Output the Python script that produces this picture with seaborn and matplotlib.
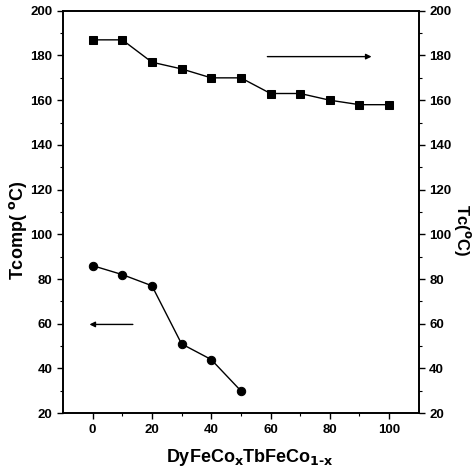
import matplotlib
matplotlib.use("Agg")
import matplotlib.pyplot as plt
import seaborn as sns
import pandas as pd

# Datos
x_tc = [0, 10, 20, 30, 40, 50, 60, 70, 80, 90, 100]
tc = [187, 187, 177, 174, 170, 170, 163, 163, 160, 158, 158]
x_tcomp = [0, 10, 20, 30, 40, 50]
tcomp = [86, 82, 77, 51, 44, 30]

sns.set_style("ticks", {"axes.edgecolor": "black", "text.color": "black",
                        "axes.labelcolor": "black", "xtick.color": "black",
                        "ytick.color": "black"})
plt.rcParams["font.family"] = ["Liberation Sans", "DejaVu Sans"]
plt.rcParams["font.weight"] = "bold"
plt.rcParams["mathtext.default"] = "bf"

df_tc = pd.DataFrame({"x": x_tc, "y": tc})
df_comp = pd.DataFrame({"x": x_tcomp, "y": tcomp})

fig = plt.figure(figsize=(4.77, 4.69), dpi=100)
ax = fig.add_axes([0.132, 0.119, 0.746, 0.858])
ax2 = ax.twinx()

sns.lineplot(data=df_comp, x="x", y="y", ax=ax, color="black", marker="o",
             markersize=6, linewidth=1, markeredgecolor="black")
sns.lineplot(data=df_tc, x="x", y="y", ax=ax2, color="black", marker="s",
             markersize=5.5, linewidth=1, markeredgecolor="black")

for a in (ax, ax2):
    a.set_ylim(20, 200)
    a.set_yticks(range(20, 201, 20))
    a.set_yticks(range(30, 200, 20), minor=True)
    a.tick_params(axis="both", which="major", length=4, width=1, labelsize=9.5,
                  colors="black")
    a.tick_params(axis="both", which="minor", length=2, width=0.8, colors="black")
    for s in a.spines.values():
        s.set_visible(True)
        s.set_linewidth(1.2)
        s.set_color("black")

ax.set_xlim(-10, 110)
ax.set_xticks(range(0, 101, 20))
ax.set_xticks(range(10, 101, 20), minor=True)

ax.set_xlabel("DyFeCo$_x$TbFeCo$_{1\\text{-}x}$", fontsize=13, fontweight="bold")
ax.set_ylabel("Tcomp( $^o$C)", fontsize=13, fontweight="bold", va="center", ha="center")
ax2.set_ylabel("Tc($^o$C)", fontsize=12, fontweight="bold", rotation=-90,
               va="center", ha="center")
ax.yaxis.set_label_coords(-0.126, 0.455)
ax2.yaxis.set_label_coords(1.122, 0.455)
ax.xaxis.set_label_coords(0.525, -0.085)

# flechas indicando el eje de cada serie
ax2.annotate("", xy=(95, 179.5), xytext=(58, 179.5),
             arrowprops=dict(arrowstyle="-|>", color="black", lw=1, mutation_scale=8))
ax.annotate("", xy=(-2, 59.7), xytext=(14.5, 59.7),
            arrowprops=dict(arrowstyle="-|>", color="black", lw=1, mutation_scale=8))

fig.savefig("out.png", dpi=100)
